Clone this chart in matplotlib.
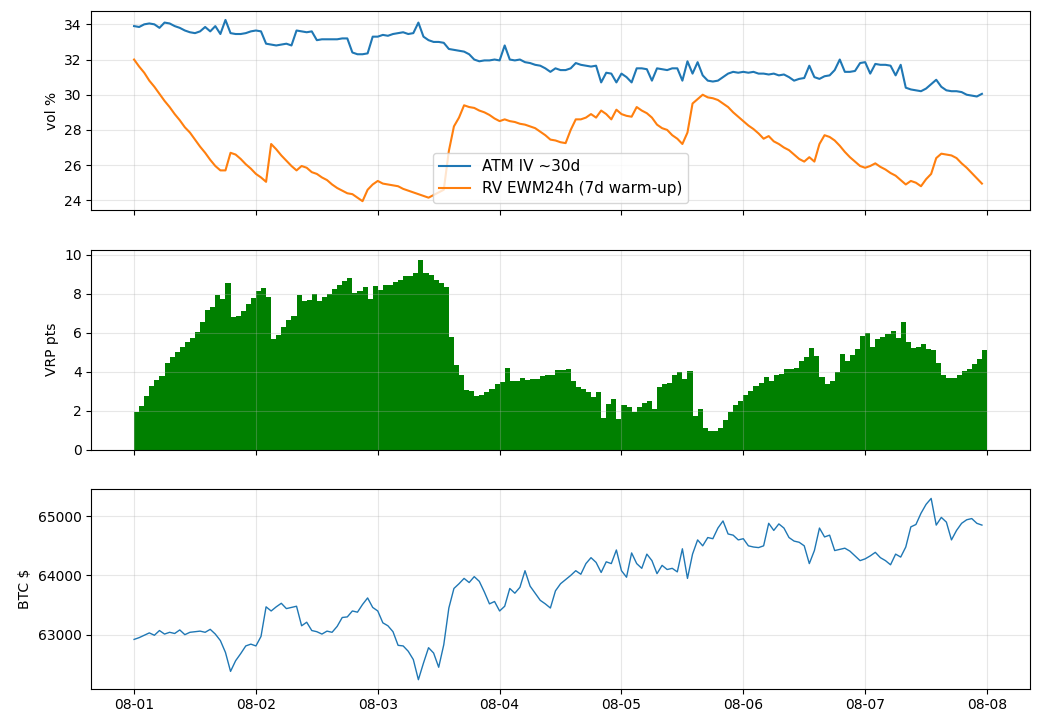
import matplotlib
matplotlib.use("Agg")
import matplotlib.pyplot as plt
import matplotlib.dates as mdates
from matplotlib.ticker import MultipleLocator
import numpy as np
import pandas as pd

# hourly samples, 2024-08-01 00:00 .. 08-07 23:00
times = pd.date_range("2024-08-01 00:00", periods=168, freq="h")

atm_iv = [
    33.9, 33.85, 34.0, 34.05, 34.0, 33.8, 34.1, 34.05, 33.9, 33.8, 33.65, 33.55,
    33.5, 33.6, 33.85, 33.6, 33.9, 33.45, 34.25, 33.5, 33.45, 33.45, 33.5, 33.6,
    33.65, 33.6, 32.9, 32.85, 32.8, 32.85, 32.9, 32.8, 33.65, 33.6, 33.55, 33.6,
    33.1, 33.15, 33.15, 33.15, 33.15, 33.2, 33.2, 32.4, 32.3, 32.3, 32.35, 33.3,
    33.3, 33.4, 33.35, 33.45, 33.5, 33.55, 33.45, 33.5, 34.1, 33.3, 33.1, 33.0,
    33.0, 32.95, 32.6, 32.55, 32.5, 32.45, 32.3, 32.0, 31.9, 31.95, 31.95, 32.0,
    31.95, 32.8, 32.0, 31.95, 32.0, 31.85, 31.8, 31.7, 31.65, 31.5, 31.3, 31.5,
    31.4, 31.4, 31.5, 31.8, 31.7, 31.65, 31.6, 31.65, 30.7, 31.25, 31.2, 30.7,
    31.2, 31.0, 30.7, 31.5, 31.5, 31.45, 30.8, 31.5, 31.45, 31.4, 31.5, 31.5,
    30.8, 31.9, 31.2, 31.85, 31.1, 30.8, 30.75, 30.8, 31.0, 31.2, 31.3, 31.25,
    31.3, 31.25, 31.3, 31.2, 31.2, 31.15, 31.2, 31.1, 31.15, 31.0, 30.8, 30.9,
    30.95, 31.65, 31.0, 30.9, 31.05, 31.1, 31.4, 32.0, 31.3, 31.3, 31.35, 31.8,
    31.85, 31.2, 31.75, 31.7, 31.7, 31.65, 31.1, 31.7, 30.4, 30.3, 30.25, 30.2,
    30.35, 30.6, 30.85, 30.45, 30.25, 30.2, 30.2, 30.15, 30.0, 29.95, 29.9, 30.05,
]

rv_ewm = [
    32.0, 31.6, 31.25, 30.8, 30.45, 30.05, 29.65, 29.3, 28.9, 28.55, 28.15, 27.85,
    27.45, 27.05, 26.7, 26.3, 25.95, 25.7, 25.7, 26.7, 26.6, 26.35, 26.05, 25.8,
    25.5, 25.3, 25.05, 27.2, 26.9, 26.55, 26.25, 25.95, 25.7, 25.95, 25.85, 25.6,
    25.5, 25.3, 25.15, 24.9, 24.7, 24.55, 24.4, 24.35, 24.15, 23.95, 24.6, 24.9,
    25.1, 24.95, 24.9, 24.85, 24.8, 24.65, 24.55, 24.45, 24.35, 24.25, 24.15, 24.3,
    24.45, 24.6, 26.8, 28.2, 28.7, 29.4, 29.3, 29.25, 29.1, 29.0, 28.85, 28.65,
    28.5, 28.6, 28.5, 28.45, 28.35, 28.3, 28.2, 28.1, 27.9, 27.7, 27.45, 27.4,
    27.3, 27.25, 28.0, 28.6, 28.6, 28.7, 28.9, 28.7, 29.1, 28.9, 28.6, 29.15,
    28.9, 28.8, 28.75, 29.3, 29.1, 28.95, 28.7, 28.3, 28.1, 28.0, 27.7, 27.5,
    27.2, 27.85, 29.5, 29.75, 30.0, 29.85, 29.8, 29.7, 29.5, 29.3, 29.0, 28.75,
    28.5, 28.25, 28.05, 27.8, 27.5, 27.65, 27.35, 27.2, 27.0, 26.85, 26.6, 26.35,
    26.2, 26.45, 26.2, 27.2, 27.7, 27.6, 27.4, 27.1, 26.75, 26.45, 26.2, 25.95,
    25.85, 25.95, 26.1, 25.9, 25.75, 25.55, 25.4, 25.15, 24.9, 25.1, 25.0, 24.8,
    25.2, 25.5, 26.4, 26.65, 26.6, 26.55, 26.4, 26.1, 25.85, 25.55, 25.25, 24.95,
]

btc = [
    62920, 62950, 62990, 63030, 62990, 63070, 63010, 63040, 63020, 63080, 63000, 63040,
    63050, 63060, 63040, 63090, 63010, 62900, 62700, 62380, 62560, 62680, 62810, 62840,
    62810, 62970, 63470, 63400, 63470, 63530, 63440, 63460, 63480, 63150, 63210, 63070,
    63050, 63010, 63060, 63040, 63140, 63290, 63300, 63400, 63380, 63510, 63620, 63460,
    63400, 63200, 63150, 63050, 62820, 62810, 62720, 62580, 62240, 62520, 62780, 62690,
    62450, 62830, 63450, 63780, 63860, 63950, 63880, 63980, 63900, 63720, 63520, 63560,
    63400, 63480, 63780, 63700, 63800, 64080, 63820, 63700, 63580, 63520, 63450, 63740,
    63860, 63930, 64000, 64080, 64020, 64200, 64300, 64220, 64050, 64230, 64200, 64430,
    64080, 63970, 64380, 64200, 64120, 64360, 64250, 64030, 64170, 64100, 64120, 64060,
    64450, 63950, 64360, 64600, 64500, 64640, 64620, 64800, 64920, 64700, 64680, 64600,
    64620, 64500, 64480, 64470, 64500, 64880, 64760, 64870, 64800, 64640, 64580, 64560,
    64500, 64200, 64420, 64800, 64650, 64680, 64420, 64440, 64460, 64410, 64330, 64250,
    64280, 64330, 64390, 64300, 64250, 64180, 64360, 64310, 64480, 64820, 64860, 65050,
    65200, 65300, 64850, 64980, 64900, 64600, 64760, 64880, 64940, 64960, 64880, 64850,
]

iv = np.array(atm_iv)
rv = np.array(rv_ewm)
vrp = iv - rv

fig, axs = plt.subplots(3, 1, figsize=(10.39, 7.25), dpi=100, sharex=True)
plt.subplots_adjust(left=0.088, right=0.991, top=0.985, bottom=0.05, hspace=0.2)

ax = axs[0]
ax.plot(times, iv, label="ATM IV ~30d")
ax.plot(times, rv, label="RV EWM24h (7d warm-up)")
ax.set_ylabel("vol %")
ax.legend(loc="lower center", fontsize=11)
ax.grid(alpha=0.3)

ax = axs[1]
ax.bar(times, vrp, width=1 / 24, align="edge", color="green")
ax.set_ylabel("VRP pts")
ax.grid(alpha=0.3)

ax = axs[2]
ax.plot(times, btc, lw=1)
ax.set_ylabel("BTC $")
ax.yaxis.set_major_locator(MultipleLocator(1000))
ax.grid(alpha=0.3)
ax.xaxis.set_major_locator(mdates.DayLocator())
ax.xaxis.set_major_formatter(mdates.DateFormatter("%m-%d"))

plt.savefig("out.png", dpi=100)
